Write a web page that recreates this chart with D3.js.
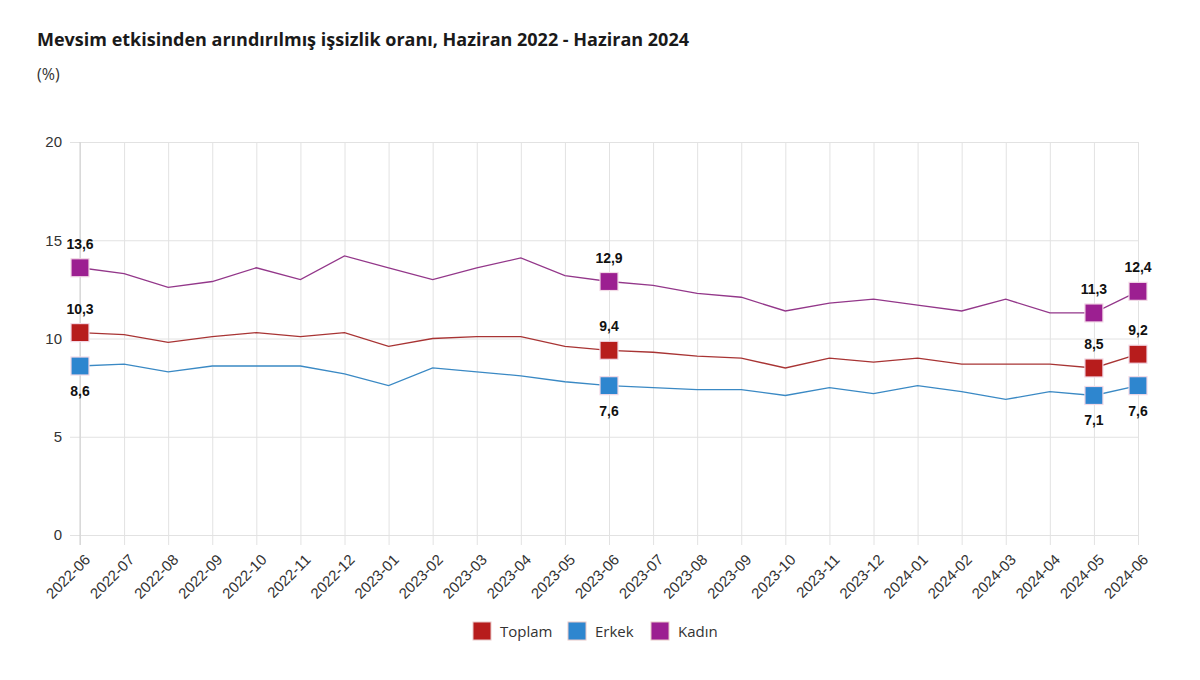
<!DOCTYPE html>
<html lang="tr">
<head>
<meta charset="UTF-8">
<title>Mevsim etkisinden arındırılmış işsizlik oranı</title>
<script src="https://cdn.jsdelivr.net/npm/d3@7"></script>
<style>
    body { margin: 0; background: #fff; }
    svg { font-family: "Open Sans", sans-serif; }
    .title { font-size: 18px; font-weight: 700; fill: #1a1a1a; }
    .unit { font-size: 16px; fill: #333; }
    .tick text { font-size: 15px; fill: #333; }
    .vlabel { font-family: "Liberation Sans", Arial, sans-serif; font-size: 14px; font-weight: 700; fill: #111; }
    .legend text { font-size: 15px; fill: #333; }
</style>
</head>
<body>
<svg width="1200" height="680"></svg>
<script>
    const months = ["2022-06", "2022-07", "2022-08", "2022-09", "2022-10", "2022-11", "2022-12",
        "2023-01", "2023-02", "2023-03", "2023-04", "2023-05", "2023-06", "2023-07", "2023-08",
        "2023-09", "2023-10", "2023-11", "2023-12", "2024-01", "2024-02", "2024-03", "2024-04",
        "2024-05", "2024-06"];

    const toplam = [10.3, 10.2, 9.8, 10.1, 10.3, 10.1, 10.3, 9.6, 10.0, 10.1, 10.1, 9.6, 9.4,
        9.3, 9.1, 9.0, 8.5, 9.0, 8.8, 9.0, 8.7, 8.7, 8.7, 8.5, 9.2];
    const erkek = [8.6, 8.7, 8.3, 8.6, 8.6, 8.6, 8.2, 7.6, 8.5, 8.3, 8.1, 7.8, 7.6,
        7.5, 7.4, 7.4, 7.1, 7.5, 7.2, 7.6, 7.3, 6.9, 7.3, 7.1, 7.6];
    const kadin = [13.6, 13.3, 12.6, 12.9, 13.6, 13.0, 14.2, 13.6, 13.0, 13.6, 14.1, 13.2, 12.9,
        12.7, 12.3, 12.1, 11.4, 11.8, 12.0, 11.7, 11.4, 12.0, 11.3, 11.3, 12.4];

    const yTicks = [0, 5, 10, 15, 20];
    // months that carry a marker and a value label
    const marked = ["2022-06", "2023-06", "2024-05", "2024-06"];

    const series = [
        {name: "Toplam", values: toplam, color: "#b71c1c", line: "#a83434", labelPos: "above"},
        {name: "Erkek", values: erkek, color: "#2e86cf", line: "#3a89c4", labelPos: "below"},
        {name: "Kadın", values: kadin, color: "#9c1f91", line: "#93378a", labelPos: "above"}
    ];

    const svg = d3.select("svg");
    const margin = {left: 80, right: 62, top: 142, bottom: 145};
    const W = 1200, H = 680;

    const x = d3.scalePoint().domain(months).range([margin.left, W - margin.right]);
    const y = d3.scaleLinear().domain([0, 20]).range([H - margin.bottom, margin.top]);

    svg.append("text").attr("class", "title").attr("x", 37).attr("y", 46)
        .text("Mevsim etkisinden arındırılmış işsizlik oranı, Haziran 2022 - Haziran 2024");
    svg.append("text").attr("class", "unit").attr("x", 37).attr("y", 80).text("(%)");

    // horizontal grid + y labels
    const yAxis = svg.append("g")
        .attr("transform", `translate(${margin.left},0)`)
        .call(d3.axisLeft(y).tickValues(yTicks).tickPadding(6)
            .tickSizeInner(-(W - margin.left - margin.right)));
    yAxis.select(".domain").remove();
    yAxis.selectAll(".tick line").attr("stroke", "#e2e2e2").attr("x1", -10);
    yAxis.selectAll(".tick text").attr("x", -18);

    // vertical grid + rotated x labels
    const xAxis = svg.append("g")
        .attr("transform", `translate(0,${y(0) + 10})`)
        .call(d3.axisBottom(x).tickSizeInner(-(y(0) + 10 - margin.top)).tickSizeOuter(0));
    xAxis.select(".domain").remove();
    xAxis.selectAll(".tick line").attr("stroke", "#e2e2e2");
    xAxis.selectAll(".tick text")
        .attr("text-anchor", "end")
        .attr("dy", "0.35em")
        .attr("transform", "translate(7,12) rotate(-45)")
        .attr("x", 0).attr("y", 0);

    // left axis line slightly darker
    svg.append("line")
        .attr("x1", margin.left).attr("x2", margin.left)
        .attr("y1", margin.top).attr("y2", y(0) + 10)
        .attr("stroke", "#cfcfcf");

    const line = d3.line()
        .x((d, i) => x(months[i]))
        .y(d => y(d));

    series.forEach(s => {
        svg.append("path")
            .datum(s.values)
            .attr("fill", "none")
            .attr("stroke", s.line)
            .attr("stroke-width", 1.3)
            .attr("d", line);

        const pts = months.map((m, i) => ({m, v: s.values[i]})).filter(p => marked.includes(p.m));
        svg.append("g").selectAll("rect").data(pts).join("rect")
            .attr("x", p => x(p.m) - 9).attr("y", p => y(p.v) - 9)
            .attr("width", 18).attr("height", 18)
            .attr("fill", s.color)
            .attr("stroke", "#f2d9e6").attr("stroke-width", 1.2);

        svg.append("g").selectAll("text").data(pts).join("text")
            .attr("class", "vlabel")
            .attr("text-anchor", "middle")
            .attr("x", p => x(p.m))
            .attr("y", p => s.labelPos === "above" ? y(p.v) - 19 : y(p.v) + 30)
            .text(p => d3.format(".1f")(p.v).replace(".", ","));
    });

    // legend
    const legendItems = [
        {name: "Toplam", color: "#b71c1c", w: 88},
        {name: "Erkek", color: "#2e86cf", w: 76},
        {name: "Kadın", color: "#9c1f91", w: 70}
    ];
    const legend = svg.append("g").attr("class", "legend").attr("transform", "translate(473,622)");
    let lx = 0;
    legendItems.forEach(it => {
        const g = legend.append("g").attr("transform", `translate(${lx},0)`);
        g.append("rect").attr("width", 18).attr("height", 18).attr("fill", it.color)
            .attr("stroke", "#e8c8c8").attr("stroke-width", 1);
        g.append("text").attr("x", 27).attr("y", 15).text(it.name);
        lx += it.w + 7;
    });
</script>
</body>
</html>
